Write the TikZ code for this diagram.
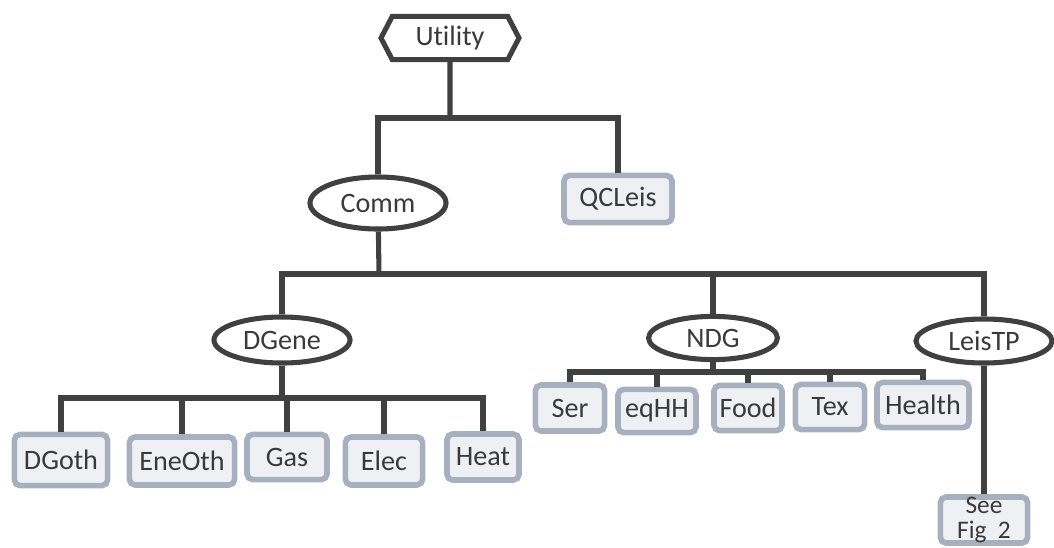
\documentclass[tikz,border=0pt]{standalone}
\usepackage{fontspec}
\setmainfont[Ligatures=NoCommon]{Carlito}
\usetikzlibrary{positioning,shapes.geometric,shapes.symbols}
\definecolor{linegray}{HTML}{404040}
\definecolor{boxfill}{HTML}{EEF0F4}
\definecolor{boxline}{HTML}{A6B0BE}
\definecolor{txtgray}{HTML}{3A3A3A}
\tikzstyle{root}=[signal, signal to=west and east, signal pointer angle=125, draw=linegray, line width=3.6pt,
        fill=white, text=txtgray, minimum width=3.45cm, minimum height=1.08cm, inner sep=2pt]
\tikzstyle{group}=[ellipse, draw=linegray, line width=3.6pt, fill=white, text=txtgray, inner sep=0pt]
\tikzstyle{leaf}=[rectangle, rounded corners=4pt, draw=boxline, line width=4pt, fill=boxfill,
        text=txtgray, align=center, inner sep=0pt]
\tikzstyle{link}=[draw=linegray, line width=3.6pt]

\begin{document}
\begin{tikzpicture}[x=0.025cm,y=-0.025cm,font=\fontsize{20}{20}\selectfont]
\useasboundingbox (0,0) rectangle (1054,547);
% top
\node[root] (util) at (450,38) {Utility};
\node[group, minimum width=3.4cm, minimum height=1.3cm] (comm) at (378,203) {Comm};
\node[leaf, minimum width=2.7cm, minimum height=1.18cm] (qcleis) at (618,199) {QCLeis};
% second level
\node[group, minimum width=3.4cm, minimum height=1.15cm] (dgene) at (282,340) {DGene};
\node[group, minimum width=3.22cm, minimum height=1.08cm] (ndg) at (713,338) {NDG};
\node[group, minimum width=3.4cm, minimum height=1.1cm] (leistp) at (984,341) {LeisTP};
% DGene leaves
\node[leaf, minimum width=2.33cm, minimum height=1.28cm] (dgoth) at (61,460) {DGoth};
\node[leaf, minimum width=2.63cm, minimum height=1.2cm] (eneoth) at (182,461) {EneOth};
\node[leaf, minimum width=2.0cm, minimum height=1.13cm] (gas) at (287,457) {Gas};
\node[leaf, minimum width=1.93cm, minimum height=1.2cm] (elec) at (384,461) {Elec};
\node[leaf, minimum width=1.8cm, minimum height=1.15cm] (heat) at (483,457) {Heat};
% NDG leaves
\node[leaf, minimum width=1.73cm, minimum height=1.15cm] (ser) at (570,408) {Ser};
\node[leaf, minimum width=1.95cm, minimum height=1.08cm] (eqhh) at (657,411) {eqHH};
\node[leaf, minimum width=1.7cm, minimum height=1.13cm] (food) at (748,408) {Food};
\node[leaf, minimum width=1.73cm, minimum height=1.13cm] (tex) at (830,407) {Tex};
\node[leaf, minimum width=2.3cm, minimum height=1.13cm] (health) at (923,405) {Health};
% LeisTP leaf
\node[leaf, minimum width=2.18cm, minimum height=1.13cm, font=\fontsize{18}{18}\selectfont] (seefig) at (984,520) {See\\Fig~~2};

% connectors
\coordinate (b1) at (450,118);
\coordinate (b2) at (379,274);
\coordinate (b3) at (282,398);
\coordinate (b4) at (713,372);
\draw[link] (util) -- (b1);
\draw[link] (comm.north) |- (b1) -| (qcleis.north);
\draw[link] (comm) -- (b2);
\draw[link] (dgene.north) |- (b2) -| (leistp.north);
\draw[link] (ndg.north) -- (ndg.north |- b2);
\draw[link] (dgene) -- (b3);
\draw[link] (dgoth.north) |- (b3) -| (heat.north);
\draw[link] (eneoth.north) -- (eneoth.north |- b3);
\draw[link] (gas.north) -- (gas.north |- b3);
\draw[link] (elec.north) -- (elec.north |- b3);
\draw[link] (ndg) -- (b4);
\draw[link] (ser.north) |- (b4) -| (health.north);
\draw[link] (eqhh.north) -- (eqhh.north |- b4);
\draw[link] (food.north) -- (food.north |- b4);
\draw[link] (tex.north) -- (tex.north |- b4);
\draw[link] (leistp) -- (seefig);
\end{tikzpicture}
\end{document}
